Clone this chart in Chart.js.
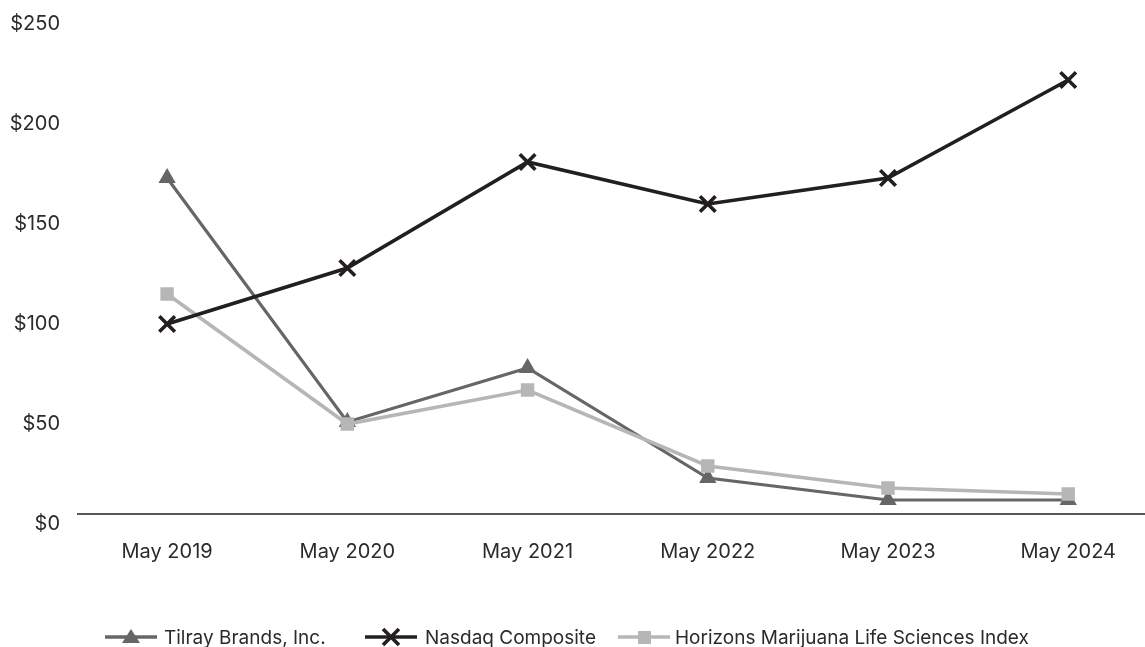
<!DOCTYPE html>
<html lang="en">
<head>
  <meta charset="UTF-8">
  <title>Cumulative Total Return</title>
  <script src="https://cdn.jsdelivr.net/npm/chart.js"></script>
  <style>
    html, body {
      margin: 0;
      overflow: hidden;
      background: #fff;
      font-family: 'Inter', sans-serif;
      color: #2b2b2b;
    }
    .wrap {
      position: relative;
      width: 1145px;
      height: 647px;
      overflow: hidden;
    }
    .legend {
      position: absolute;
      top: 626px;
      left: 0;
      width: 1145px;
      height: 22px;
      font-size: 19px;
    }
    .legend .item {
      position: absolute;
      top: 0;
      height: 22px;
      display: flex;
      align-items: center;
      white-space: nowrap;
    }
  </style>
</head>
<body>
  <div class="wrap">
    <canvas id="chart"></canvas>
    <div class="legend" id="legend"></div>
  </div>

  <script>
    // valores (retorno acumulado, base $100)
    const years = ['May 2019', 'May 2020', 'May 2021', 'May 2022', 'May 2023', 'May 2024'];
    const tilray = [173, 51, 78, 23, 12, 12];
    const nasdaq = [100, 128, 181, 160, 173, 222];
    const horizons = [115, 50, 67, 29, 18, 15];
    const yTicks = [0, 50, 100, 150, 200, 250];

    const names = ['Tilray Brands, Inc.', 'Nasdaq Composite', 'Horizons Marijuana Life Sciences Index'];
    const colors = ['#666666', '#231f20', '#b6b6b8'];

    const toPoints = arr => arr.map((v, i) => ({ x: i, y: v }));

    // linha do eixo x (fica um pouco acima do $0 no original), vai até a borda direita
    const baseline = {
      id: 'baseline',
      afterDraw(chart) {
        const { ctx, chartArea, scales } = chart;
        const y = scales.y.getPixelForValue(5);
        ctx.save();
        ctx.strokeStyle = '#231f20';
        ctx.lineWidth = 1.5;
        ctx.beginPath();
        ctx.moveTo(chartArea.left, y);
        ctx.lineTo(chart.width, y);
        ctx.stroke();
        ctx.restore();
      }
    };

    const ctx = document.getElementById('chart').getContext('2d');
    const chart = new Chart(ctx, {
      type: 'line',
      data: {
        datasets: [
          {
            label: names[0],
            data: toPoints(tilray),
            borderColor: colors[0],
            backgroundColor: colors[0],
            borderWidth: 3.2,
            pointStyle: 'triangle',
            pointRadius: 10,
            pointBorderWidth: 0,
            order: 3
          },
          {
            label: names[1],
            data: toPoints(nasdaq),
            borderColor: colors[1],
            backgroundColor: colors[1],
            borderWidth: 3.6,
            pointStyle: 'crossRot',
            pointRadius: 11,
            pointBorderWidth: 3.6,
            order: 1
          },
          {
            label: names[2],
            data: toPoints(horizons),
            borderColor: colors[2],
            backgroundColor: colors[2],
            borderWidth: 3.6,
            pointStyle: 'rect',
            pointRadius: 9.5,
            pointBorderWidth: 0,
            order: 2
          }
        ]
      },
      options: {
        responsive: true,
        maintainAspectRatio: false,
        animation: false,
        layout: { padding: { top: 24, right: 0, bottom: 75, left: 0 } },
        elements: { line: { tension: 0 } },
        scales: {
          x: {
            type: 'linear',
            min: -0.5,
            max: 5.345,
            grid: { display: false },
            border: { display: false },
            afterBuildTicks: scale => {
              scale.ticks = years.map((_, i) => ({ value: i }));
            },
            ticks: {
              padding: 8,
              color: '#2b2b2b',
              font: { family: 'Inter', size: 20 },
              maxRotation: 0,
              autoSkip: false,
              callback: value => years[value]
            }
          },
          y: {
            min: 0,
            max: 250,
            grid: { display: false },
            border: { display: false },
            afterBuildTicks: scale => {
              scale.ticks = yTicks.map(v => ({ value: v }));
            },
            afterFit: scale => {
              scale.width = 77;
              scale.paddingTop = 0;
              scale.paddingBottom = 0;
            },
            ticks: {
              padding: 9,
              color: '#2b2b2b',
              font: { family: 'Inter', size: 20 },
              callback: value => '$' + value
            }
          }
        },
        plugins: {
          legend: { display: false },
          tooltip: { enabled: false }
        }
      },
      plugins: [baseline]
    });

    // legenda em HTML com amostra de linha + marcador
    function swatch(i) {
      const c = colors[i];
      let marker = '';
      if (i === 0) marker = `<polygon points="26,2 35,16 17,16" fill="${c}"/>`;
      if (i === 1) marker = `<path d="M18,2 L34,18 M34,2 L18,18" stroke="${c}" stroke-width="3.6"/>`;
      if (i === 2) marker = `<rect x="20" y="4" width="13" height="13" fill="${c}"/>`;
      return `<svg width="52" height="20" viewBox="0 0 52 20">
        <line x1="0" y1="10" x2="52" y2="10" stroke="${c}" stroke-width="3.6"/>${marker}</svg>`;
    }
    const legendLeft = [105, 365, 618];
    const legendGap = [7, 8, 5];
    const legend = document.getElementById('legend');
    names.forEach((name, i) => {
      const item = document.createElement('div');
      item.className = 'item';
      item.style.left = legendLeft[i] + 'px';
      item.innerHTML = swatch(i) + `<span>${name}</span>`;
      item.querySelector('svg').style.marginRight = legendGap[i] + 'px';
      legend.appendChild(item);
    });
  </script>
</body>
</html>
